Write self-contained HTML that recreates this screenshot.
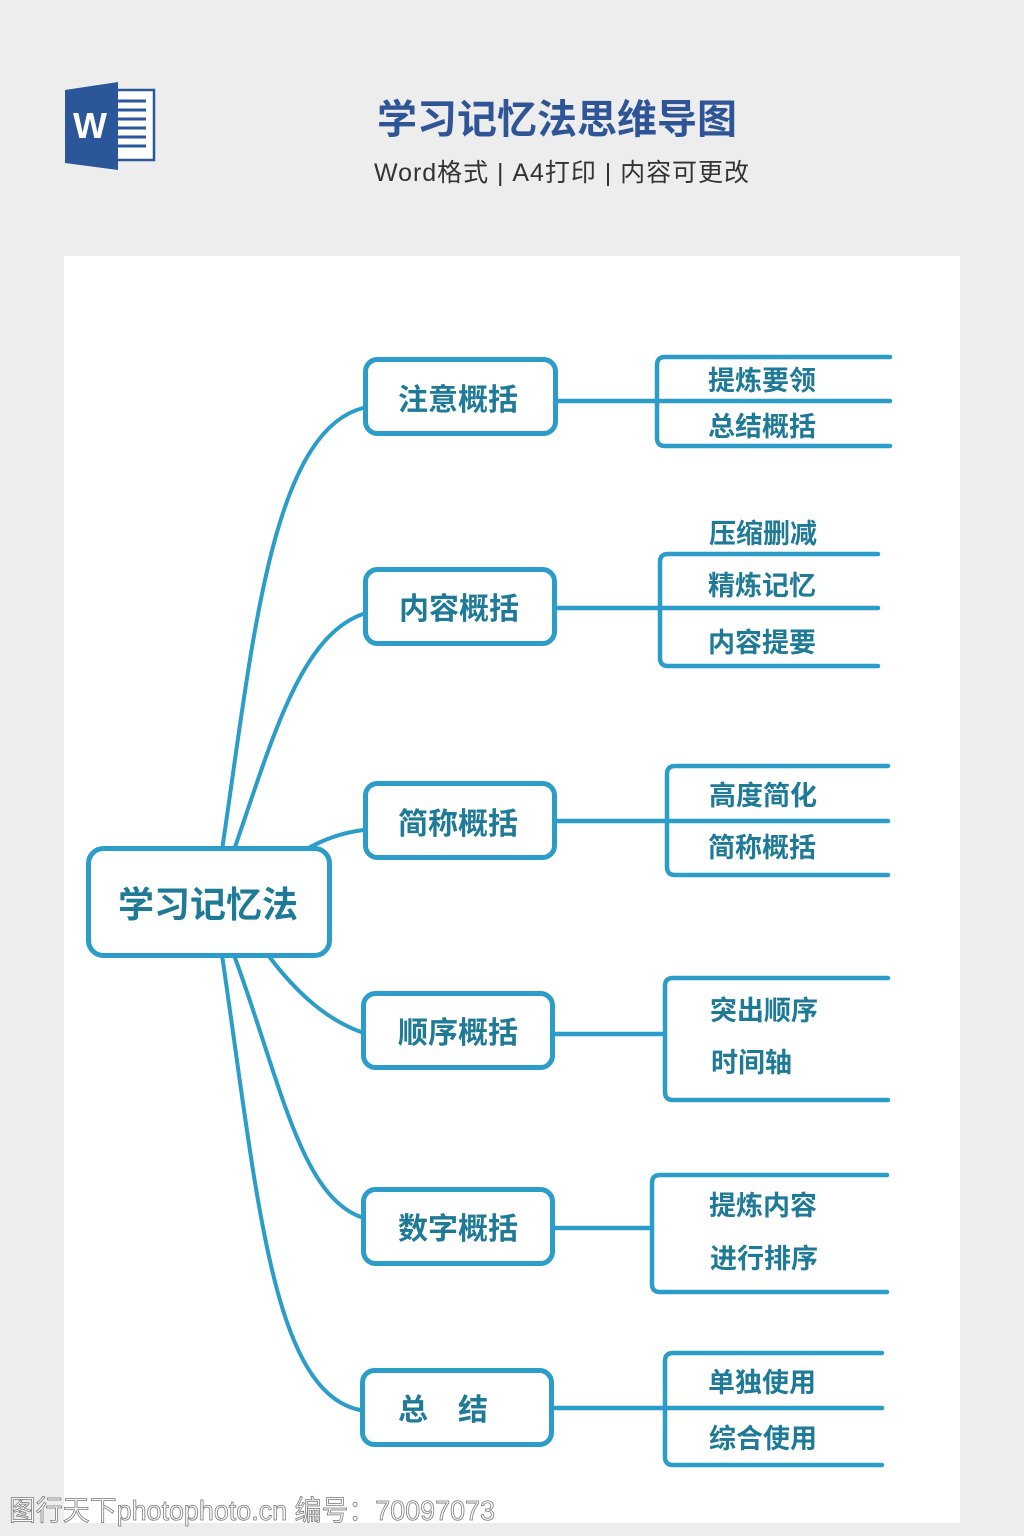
<!DOCTYPE html>
<html><head><meta charset="utf-8"><style>
html,body{margin:0;padding:0;background:#ededed;}
svg{display:block;}
</style></head><body>
<svg width="1024" height="1536" viewBox="0 0 1024 1536" xmlns="http://www.w3.org/2000/svg">
<rect x="0" y="0" width="1024" height="1536" fill="#ededed"/>
<!-- Word icon -->
<rect x="112" y="90" width="42" height="70" fill="#fff" stroke="#2b579a" stroke-width="2.5"/>
<g stroke="#2b579a" stroke-width="3">
<line x1="116" y1="101" x2="146" y2="101"/>
<line x1="116" y1="110" x2="146" y2="110"/>
<line x1="116" y1="119" x2="146" y2="119"/>
<line x1="116" y1="128" x2="146" y2="128"/>
<line x1="116" y1="137" x2="146" y2="137"/>
<line x1="116" y1="146" x2="146" y2="146"/>
</g>
<polygon points="65,90 118,82 118,170 65,163" fill="#2b579a"/>
<text x="90" y="138" font-family="Liberation Sans, sans-serif" font-weight="700" font-size="36" fill="#fff" text-anchor="middle">W</text>
<!-- header text -->
<text x="557" y="133" font-family="Liberation Sans, 'Noto Sans CJK SC', sans-serif" font-weight="700" font-size="40" fill="#2f5597" text-anchor="middle">学习记忆法思维导图</text>
<text x="374" y="181" font-family="Liberation Sans, 'Noto Sans CJK SC', sans-serif" font-size="25" fill="#333" textLength="375" lengthAdjust="spacing">Word格式 | A4打印 | 内容可更改</text>
<!-- panel -->
<rect x="64" y="256" width="896" height="1267" fill="#fff"/>
<!-- root connectors -->
<g fill="none" stroke="#2b9dc8" stroke-width="4" stroke-linecap="round">
<path d="M222,850 C252,650 270,432 363,408"/>
<path d="M234,850 C272,740 300,636 363,614"/>
<path d="M305,850 C322,840 340,833 363,830"/>
<path d="M268,955 C298,995 328,1020 361,1032"/>
<path d="M234,955 C280,1080 300,1195 361,1217"/>
<path d="M222,955 C258,1200 272,1392 360,1410"/>
</g>
<!-- brackets -->
<g fill="none" stroke="#2b9dc8" stroke-width="4.5" stroke-linecap="round">
<path d="M890,357 H665 Q657,357 657,365 V438 Q657,446 665,446 H890"/>
<path d="M558,401 H890"/>
<path d="M878,554 H668 Q660,554 660,562 V658 Q660,666 668,666 H878"/>
<path d="M557,608 H878"/>
<path d="M888,766 H675 Q667,766 667,774 V867 Q667,875 675,875 H888"/>
<path d="M557,821 H888"/>
<path d="M888,978 H673 Q665,978 665,986 V1092 Q665,1100 673,1100 H888"/>
<path d="M555,1034 H665"/>
<path d="M887,1175 H660 Q652,1175 652,1183 V1284 Q652,1292 660,1292 H887"/>
<path d="M555,1228 H652"/>
<path d="M882,1353 H673 Q665,1353 665,1361 V1457 Q665,1465 673,1465 H882"/>
<path d="M554,1408 H882"/>
</g>
<!-- boxes -->
<g fill="#fff" stroke="#2b9dc8" stroke-width="5">
<rect x="88.5" y="848.5" width="241" height="107" rx="15"/>
<rect x="365.5" y="359.5" width="190" height="74" rx="12"/>
<rect x="365.5" y="569.5" width="189" height="74" rx="12"/>
<rect x="365.5" y="783.5" width="189" height="74" rx="12"/>
<rect x="363.5" y="993.5" width="189" height="74" rx="12"/>
<rect x="363.5" y="1189.5" width="189" height="74" rx="12"/>
<rect x="362.5" y="1370.5" width="189" height="74" rx="12"/>
</g>
<!-- texts -->
<g font-family="Liberation Sans, 'Noto Sans CJK SC', sans-serif" font-weight="700" fill="#1f7a97">
<text x="208" y="917" font-size="36" text-anchor="middle">学习记忆法</text>
<g font-size="30" text-anchor="middle">
<text x="458" y="410">注意概括</text>
<text x="459" y="619">内容概括</text>
<text x="458" y="834">简称概括</text>
<text x="458" y="1043">顺序概括</text>
<text x="458" y="1239">数字概括</text>
</g>
<text x="398" y="1420" font-size="30">总　结</text>
<g font-size="27">
<text x="708" y="390">提炼要领</text>
<text x="708" y="436">总结概括</text>
<text x="709" y="543">压缩删减</text>
<text x="708" y="595">精炼记忆</text>
<text x="708" y="652">内容提要</text>
<text x="709" y="805">高度简化</text>
<text x="708" y="857">简称概括</text>
<text x="710" y="1020">突出顺序</text>
<text x="711" y="1072">时间轴</text>
<text x="709" y="1215">提炼内容</text>
<text x="710" y="1268">进行排序</text>
<text x="708" y="1392">单独使用</text>
<text x="709" y="1448">综合使用</text>
</g>
</g>
<!-- watermark -->
<text x="9" y="1520" font-family="Liberation Sans, 'Noto Sans CJK SC', sans-serif" font-size="28" fill="#fafafa" stroke="#7a7a7a" stroke-width="0.8" textLength="486" lengthAdjust="spacingAndGlyphs">图行天下photophoto.cn 编号：70097073</text>
</svg>
</body></html>
